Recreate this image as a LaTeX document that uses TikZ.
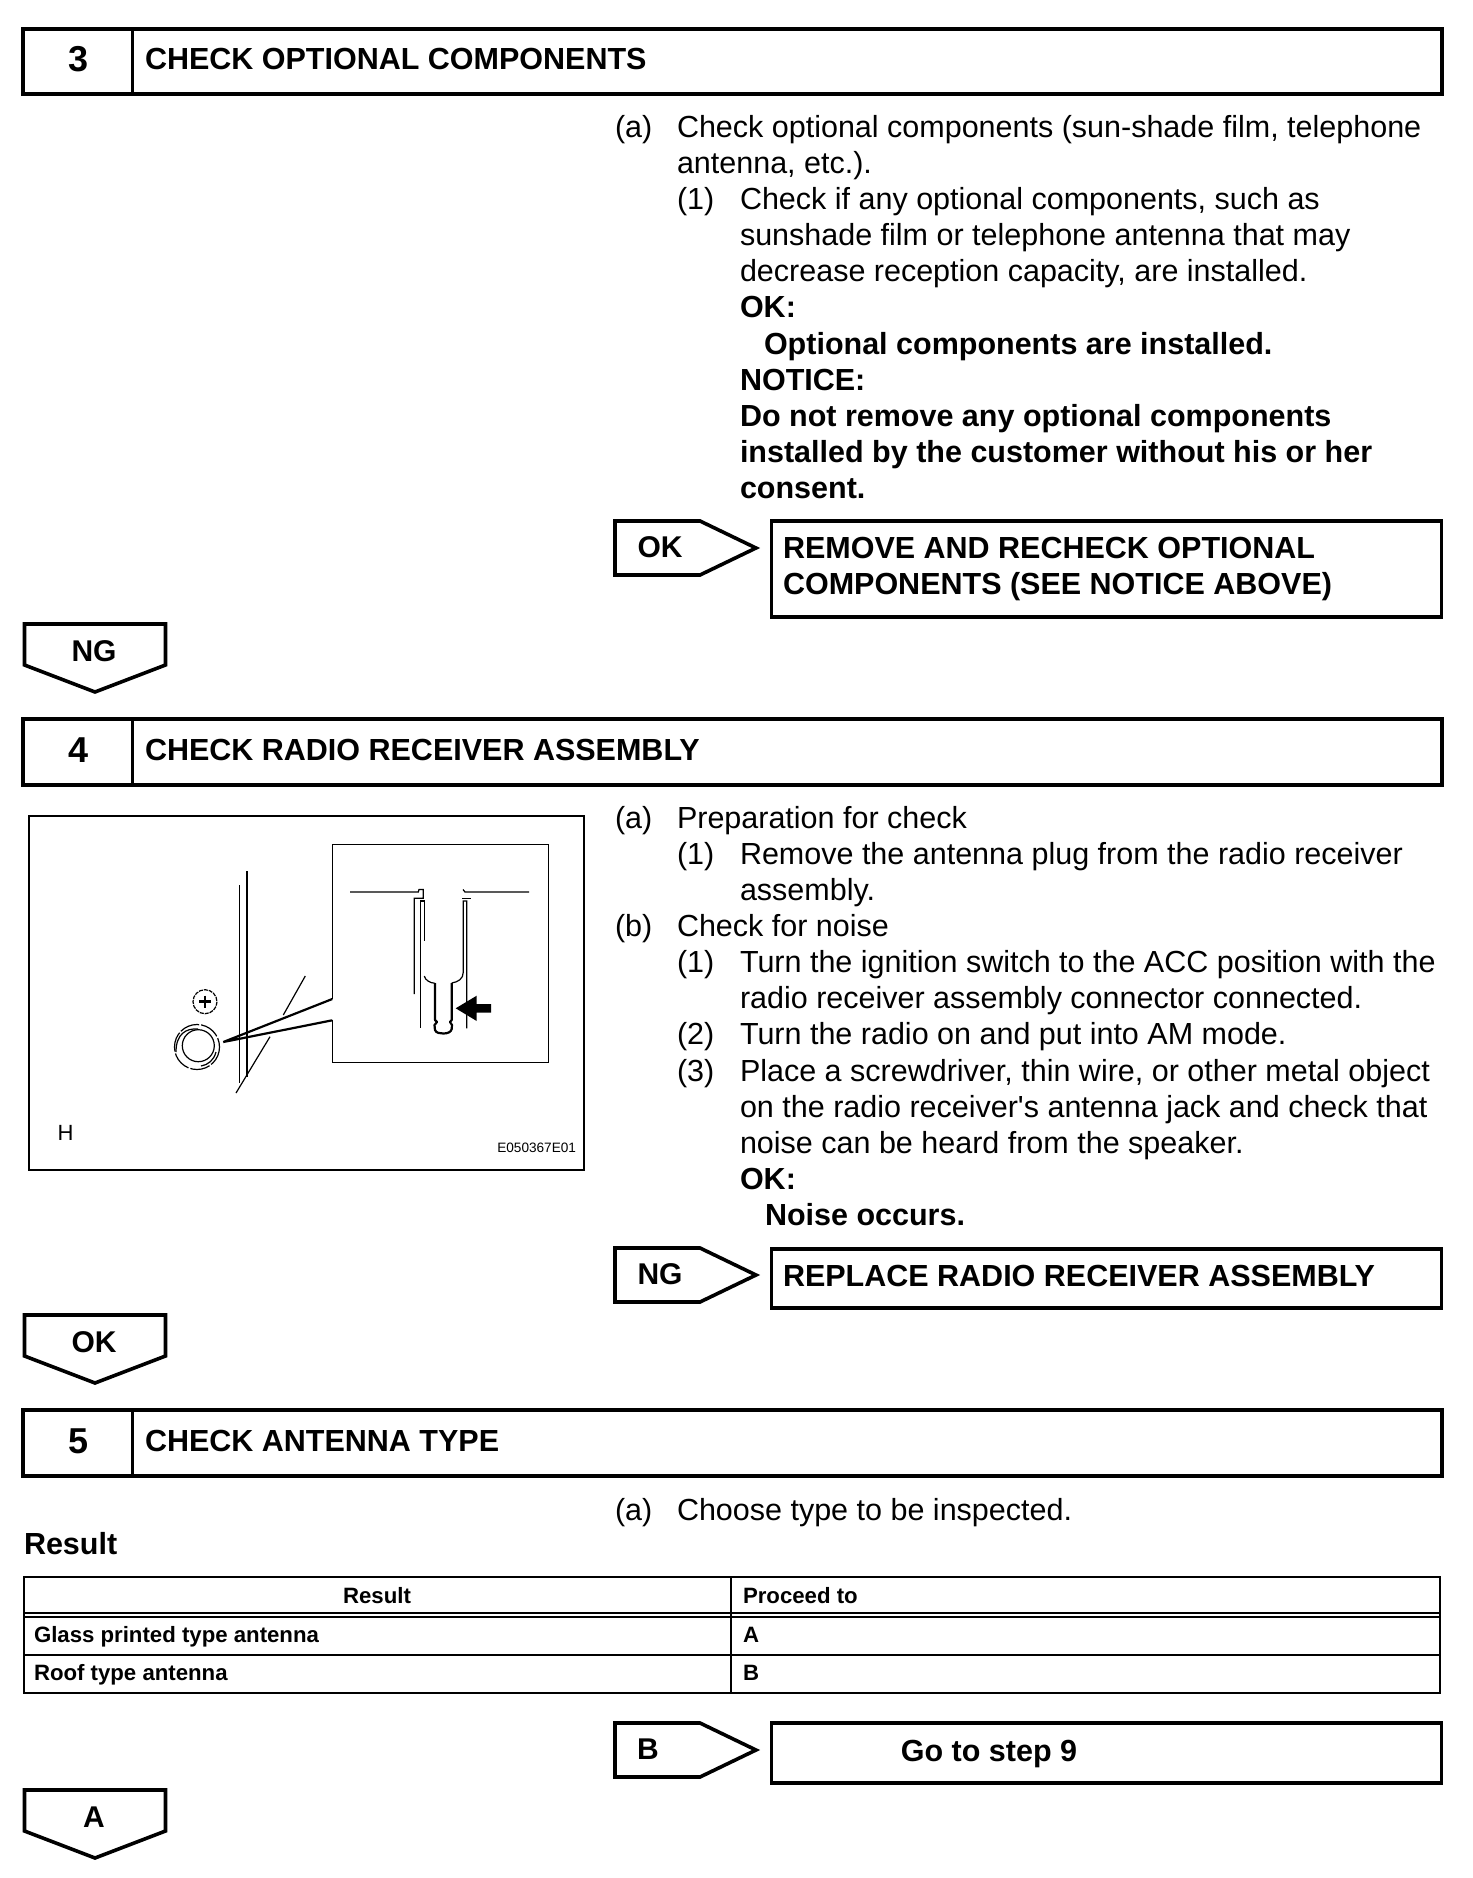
\documentclass[tikz,border=0pt]{standalone}
\usepackage{fontspec}
\setmainfont{Liberation Sans}
\newcommand\bodyf{\fontsize{30.5}{36}\selectfont}
\newcommand\headf{\fontsize{30.5}{36}\bfseries\selectfont}
\newcommand\tabf{\fontsize{22.2}{26}\bfseries\selectfont}
\newcommand\tl[4]{\node[txt] (#1) at (#2,#3) {\bodyf #4};}
\newcommand\tb[4]{\node[txt] (#1) at (#2,#3) {\headf #4};}
\newcommand\hdr[5]{%
  \node[hbox,minimum width=1419pt,minimum height={#3-#2}] (#1box) at (732.5,{(#2+#3)/2}) {};
  \draw[heavy] (132.5,#2) -- (132.5,#3);
  \node[txt,anchor=base] (#1num) at (79,{(#2+#3)/2+10}) {\fontsize{36}{36}\bfseries\selectfont #4};
  \node[txt] (#1title) at (145,{(#2+#3)/2+8}) {\headf #5};
}
\newcommand\rflag[4]{%
  \draw[heavy] (615,#2) -- (700,#2) -- (756,{#2+27}) -- (700,{#2+54}) -- (615,{#2+54}) -- cycle;
  \node[txt,anchor=base] (#1) at (#4,{#2+36}) {\fontsize{30}{36}\bfseries\selectfont #3};
}
\newcommand\dflag[4]{%
  \draw[heavy] (24.5,{#2+1}) -- (165.5,{#2+1}) -- (165.5,{#2+42}) -- (95,{#2+69}) -- (24.5,{#2+42}) -- cycle;
  \node[txt,anchor=base] (#1) at (#4,{#2+38.5}) {\fontsize{30}{36}\bfseries\selectfont #3};
}
\tikzset{
  txt/.style={anchor=base west,inner sep=0pt,outer sep=0pt,text=black},
  hbox/.style={draw=black,line width=3.6pt,inner sep=0pt,fill=none},
  heavy/.style={draw=black,line width=3.6pt,line join=miter},
  thinl/.style={draw=black,line width=1.2pt},
  midl/.style={draw=black,line width=2.2pt},
  tline/.style={draw=black,line width=2.4pt},
}
\begin{document}
\begin{tikzpicture}[x=1pt,y=-1pt]
\useasboundingbox (0,0) rectangle (1472,1878);
\fill[white] (0,0) rectangle (1472,1878);
% --- step 3
\hdr{sa}{29}{94}{3}{CHECK OPTIONAL COMPONENTS}
\tl{a1}{615}{138}{(a)}
\tl{a2}{677}{138}{Check optional components (sun-shade film, telephone}
\tl{a3}{677}{174}{antenna, etc.).}
\tl{a4}{677}{210}{(1)}
\tl{a5}{740}{210}{Check if any optional components, such as}
\tl{a6}{740}{246}{sunshade film or telephone antenna that may}
\tl{a7}{740}{281}{decrease reception capacity, are installed.}
\tb{a8}{740}{317}{OK:}
\tb{a9}{764}{354}{Optional components are installed.}
\tb{a10}{740}{390}{NOTICE:}
\tb{a11}{740}{426}{Do not remove any optional components}
\tb{a12}{740}{462}{installed by the customer without his or her}
\tb{a13}{740}{498}{consent.}
\rflag{fa}{521}{OK}{660}
\node[hbox,minimum width=670pt,minimum height=96pt] (ba) at (1106.5,569) {};
\tb{ba1}{783}{558}{REMOVE AND RECHECK OPTIONAL}
\tb{ba2}{783}{594}{COMPONENTS (SEE NOTICE ABOVE)}
\dflag{da}{623}{NG}{94}
% --- step 4
\hdr{sb}{719}{785}{4}{CHECK RADIO RECEIVER ASSEMBLY}
\tl{b1}{615}{828}{(a)}
\tl{b2}{677}{828}{Preparation for check}
\tl{b3}{677}{864}{(1)}
\tl{b4}{740}{864}{Remove the antenna plug from the radio receiver}
\tl{b5}{740}{900}{assembly.}
\tl{b6}{615}{936}{(b)}
\tl{b7}{677}{936}{Check for noise}
\tl{b8}{677}{972}{(1)}
\tl{b9}{740}{972}{Turn the ignition switch to the ACC position with the}
\tl{b10}{740}{1008}{radio receiver assembly connector connected.}
\tl{b11}{677}{1044}{(2)}
\tl{b12}{740}{1044}{Turn the radio on and put into AM mode.}
\tl{b13}{677}{1081}{(3)}
\tl{b14}{740}{1081}{Place a screwdriver, thin wire, or other metal object}
\tl{b15}{740}{1117}{on the radio receiver\textquotesingle s antenna jack and check that}
\tl{b16}{740}{1153}{noise can be heard from the speaker.}
\tb{b17}{740}{1189}{OK:}
\tb{b18}{765}{1225}{Noise occurs.}
\rflag{fb}{1248}{NG}{660}
\node[hbox,minimum width=670pt,minimum height=59pt] (bb) at (1106.5,1278.5) {};
\tb{bb1}{783}{1286}{REPLACE RADIO RECEIVER ASSEMBLY}
\dflag{db}{1314}{OK}{94}
% illustration
\node[draw=black,line width=2.6pt,minimum width=555pt,minimum height=354pt,inner sep=0pt] (ill) at (306.5,993) {};
\draw[thinl] (332.3,999) -- (332.3,844.3) -- (548.3,844.3) -- (548.3,1062.3) -- (332.3,1062.3) -- (332.3,1020.3);
\draw[midl] (332.3,999) -- (223.3,1042) -- (332.3,1020.3);
\draw[midl] (246.7,871) -- (246.7,1077);
\draw[thinl] (239.3,885) -- (239.3,1083);
\draw[thinl] (305.3,976) -- (283.3,1015);
\draw[thinl] (270,1036.7) -- (236,1093);
\draw[thinl,dash pattern=on 4pt off 1pt] (205,1001.7) circle[radius=12];
\draw[line width=2.6pt] (199,1001.7) -- (211,1001.7) (205,995.7) -- (205,1007.7);
\draw[thinl,dash pattern=on 20pt off 2pt] (197,1047) circle[radius=22.5];
\draw[thinl] (198.3,1045.7) circle[radius=16];
\draw[thinl] (176,1052) .. controls (176,1034) and (186,1028) .. (198,1029);
\draw[thinl] (201,1066) .. controls (208,1065) and (214,1060) .. (216,1052);
\draw[thinl] (350,892) -- (418.3,892) -- (419,889.5) -- (423.3,889.5) -- (423.3,898.3) -- (414.3,898.3) -- (414.3,994);
\draw[thinl] (424.3,940.7) -- (424.3,901) -- (420.3,901) -- (420.3,1028.3);
\draw[thinl] (529,892) -- (465,892) -- (463,889.5);
\draw[thinl] (462.3,898.7) -- (470.7,898.7);
\draw[thinl] (466.7,1028.3) -- (466.7,901) -- (463.3,901) -- (463.3,972) .. controls (463.3,979) and (458,982) .. (451.7,983);
\draw[thinl] (424.3,976) .. controls (425,980) and (430,983) .. (435,983.3);
\draw[line width=2.2pt,line join=round] (435,983) -- (435,1020) -- (437,1022) -- (434.5,1025) -- (435,1030) .. controls (436,1033) and (440,1033.5) .. (443.3,1033.5) .. controls (448,1033.5) and (451,1032) .. (451.7,1029) -- (452,1025) -- (450,1022) -- (451.7,1020) -- (451.7,983);
\fill[black] (455.7,1008.3) -- (476.7,995.7) -- (476.7,1004) -- (491,1004) -- (491,1012.7) -- (476.7,1012.7) -- (476.7,1021) -- cycle;
\node[txt] (h) at (57.5,1140) {\fontsize{22}{22}\selectfont H};
\node[txt,anchor=base east] (code) at (576,1152) {\fontsize{13.6}{14}\selectfont E050367E01};
% --- step 5
\hdr{sc}{1410}{1476}{5}{CHECK ANTENNA TYPE}
\tl{c1}{615}{1520}{(a)}
\tl{c2}{677}{1520}{Choose type to be inspected.}
\tb{c3}{24}{1554}{Result}
% table
\draw[tline] (24,1577) rectangle (1440,1693);
\draw[tline] (731,1577) -- (731,1693);
\draw[tline] (24,1613) -- (1440,1613);
\draw[tline] (24,1617) -- (1440,1617);
\draw[tline] (24,1655) -- (1440,1655);
\node[txt,anchor=base] (t1) at (377,1603) {\tabf Result};
\node[txt] (t2) at (743,1603) {\tabf Proceed to};
\node[txt] (t3) at (34,1642) {\tabf Glass printed type antenna};
\node[txt] (t4) at (743,1642) {\tabf A};
\node[txt] (t5) at (34,1680) {\tabf Roof type antenna};
\node[txt] (t6) at (743,1680) {\tabf B};
\rflag{fc}{1723}{B}{648}
\node[hbox,minimum width=670pt,minimum height=60pt] (bc) at (1106.5,1753) {};
\node[txt,anchor=base] (bc1) at (989,1761) {\headf Go to step 9};
\dflag{dc}{1789}{A}{94}
\end{tikzpicture}
\end{document}
